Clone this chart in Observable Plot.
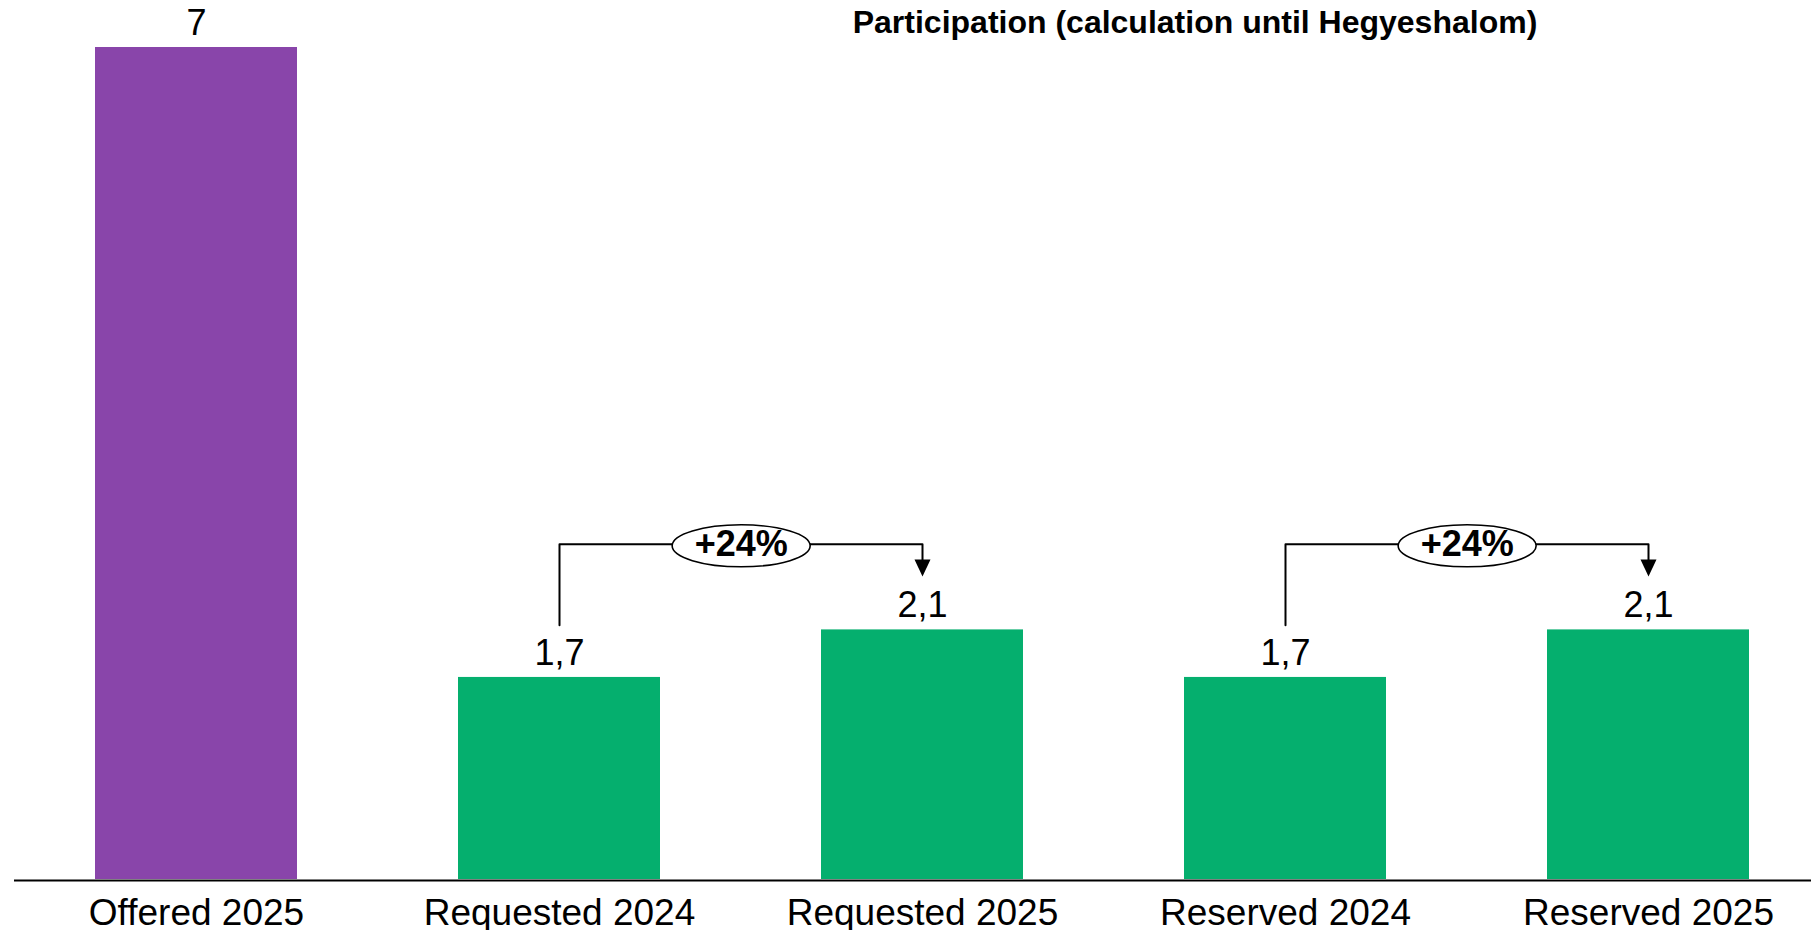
<!DOCTYPE html>
<html>
<head>
<meta charset="utf-8">
<script src="https://cdn.jsdelivr.net/npm/d3@7"></script>
<script src="https://cdn.jsdelivr.net/npm/@observablehq/plot@0.6"></script>
<style>
  html, body { margin: 0; padding: 0; background: #fff; overflow: hidden; }
  #wrap { position: relative; width: 1811px; height: 930px; }
  #title {
    position: absolute; left: 1195px; top: 6px; transform: translateX(-50%);
    font-family: "Liberation Sans", Arial, sans-serif; font-weight: bold;
    font-size: 32px; line-height: 1; white-space: nowrap; color: #000;
  }
</style>
</head>
<body>
<div id="wrap">
  <div id="title">Participation (calculation until Hegyeshalom)</div>
  <div id="chart"></div>
</div>
<script>
// ---- data ----
const categories = ["Offered 2025", "Requested 2024", "Requested 2025", "Reserved 2024", "Reserved 2025"];
const values = [7, 1.7, 2.1, 1.7, 2.1];
const barColors = ["#8945AA", "#05AF6E", "#05AF6E", "#05AF6E", "#05AF6E"];
const changeFrom = ["Requested 2024", "Reserved 2024"];
const changeTo = ["Requested 2025", "Reserved 2025"];
const changeLabels = ["+24%", "+24%"];

// ---- helpers ----
const fmt = d3.formatLocale({decimal: ",", thousands: ".", grouping: [3], currency: ["", ""]}).format("~f");
const rows = categories.map((c, i) => ({cat: c, value: values[i], label: fmt(values[i])}));
const valueOf = Object.fromEntries(rows.map(r => [r.cat, r.value]));

const xOpts = {
  type: "band",
  domain: categories,
  range: [54.7, 1789.9],
  paddingInner: 0.444,
  paddingOuter: 0.11,
  align: 0.5
};
const xs = Plot.scale({x: xOpts});

const ellipseSymbol = {
  draw(ctx) {
    const rx = 69, ry = 21, k = 0.5523;
    ctx.moveTo(rx, 0);
    ctx.bezierCurveTo(rx, ry * k, rx * k, ry, 0, ry);
    ctx.bezierCurveTo(-rx * k, ry, -rx, ry * k, -rx, 0);
    ctx.bezierCurveTo(-rx, -ry * k, -rx * k, -ry, 0, -ry);
    ctx.bezierCurveTo(rx * k, -ry, rx, -ry * k, rx, 0);
    ctx.closePath();
  }
};
const arrowSymbol = {
  draw(ctx) {
    ctx.moveTo(-8, -17);
    ctx.lineTo(8, -17);
    ctx.lineTo(0, 0);
    ctx.closePath();
  }
};

// bracket geometry (offsets in data units above the bars)
const bracketMarks = [];
changeFrom.forEach((from, i) => {
  const to = changeTo[i];
  const v1 = valueOf[from], v2 = valueOf[to];
  const level = Math.max(v1, v2) + 0.72;
  const tip = v2 + 0.45;
  const pts = [
    {x: from, y: v1 + 0.44},
    {x: from, y: level},
    {x: to, y: level},
    {x: to, y: tip + 0.13}
  ];
  const mid = (xs.apply(to) - xs.apply(from)) / 2;
  bracketMarks.push(
    Plot.line(pts, {x: "x", y: "y", stroke: "black", strokeWidth: 2, curve: "linear"}),
    Plot.dot([{x: to, y: tip}], {x: "x", y: "y", symbol: arrowSymbol, fill: "black", stroke: "none"}),
    Plot.dot([{x: from, y: level}], {x: "x", y: "y", dx: mid, dy: 1.5, symbol: ellipseSymbol, fill: "white", stroke: "black", strokeWidth: 1.6}),
    Plot.text([{x: from, y: level, t: changeLabels[i]}], {x: "x", y: "y", text: "t", dx: mid, dy: 0, fontSize: 36, fontWeight: "bold", fill: "black"})
  );
});

const chart = Plot.plot({
  width: 1811,
  height: 930,
  marginTop: 47,
  marginBottom: 51,
  marginLeft: 14,
  marginRight: 0,
  style: {fontFamily: "'Liberation Sans', Arial, sans-serif", background: "white", color: "black", overflow: "visible"},
  x: xOpts,
  y: {domain: [0, d3.max(values)], axis: null},
  color: {domain: categories, range: barColors},
  marks: [
    Plot.barY(rows, {x: "cat", y: "value", fill: "cat"}),
    Plot.ruleY([0], {stroke: "black", strokeWidth: 2, dy: 1}),
    Plot.text(rows, {x: "cat", y: "value", text: "label", dy: -24, fontSize: 36, fill: "black"}),
    Plot.axisX({tickSize: 0, tickPadding: 19, fontSize: 37, label: null, fill: "black"}),
    ...bracketMarks
  ]
});
document.getElementById("chart").appendChild(chart);
</script>
</body>
</html>
